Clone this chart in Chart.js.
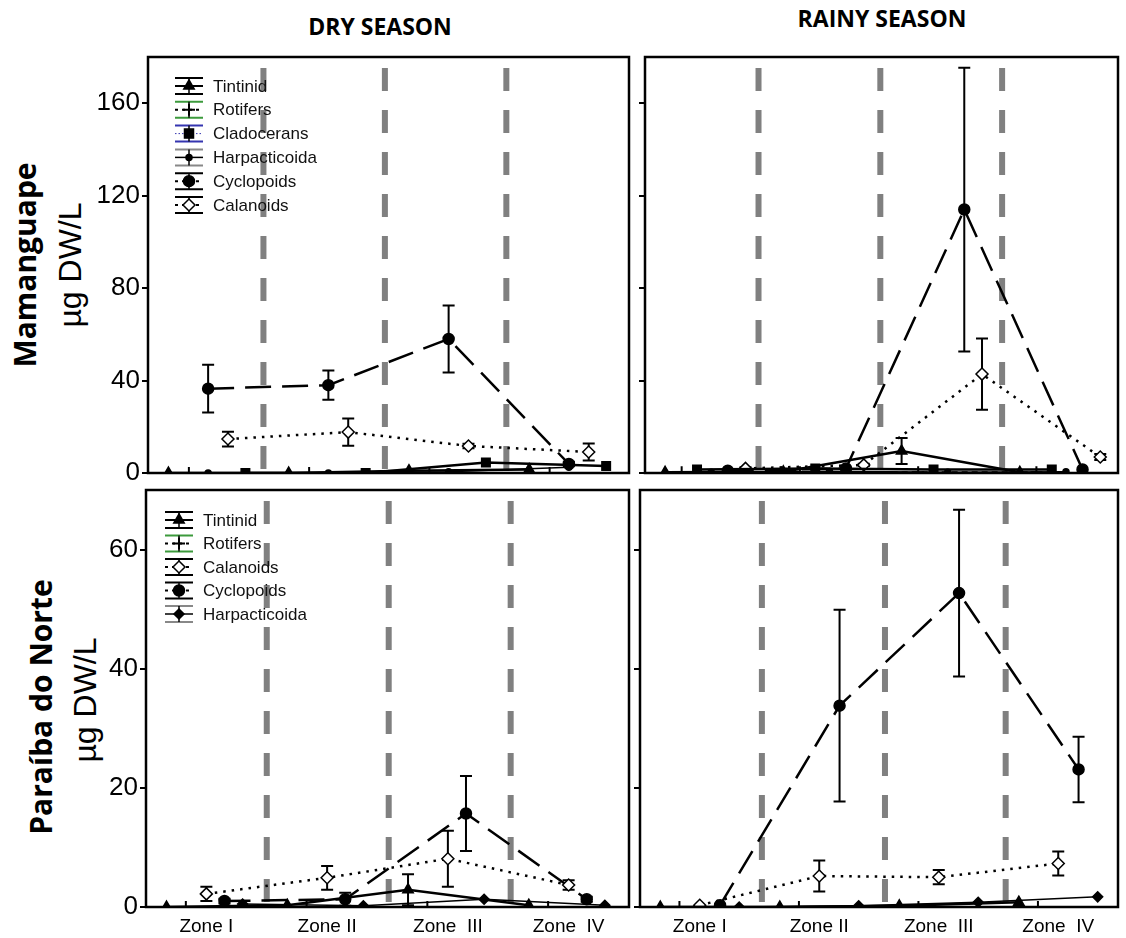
<!DOCTYPE html>
<html>
<head>
<meta charset="utf-8">
<script src="https://cdn.jsdelivr.net/npm/chart.js@4.4.1/dist/chart.umd.min.js"></script>
<style>
  body { margin: 0; background: #fff; width: 1126px; height: 938px; position: relative; overflow: hidden; }
  .lbl { position: absolute; white-space: nowrap; color: #000; transform: translate(-50%, -50%); }
  .season { font-family: "Open Sans", sans-serif; font-weight: 700; font-size: 23px; }
  .site { font-family: "Open Sans", sans-serif; font-weight: 700; font-size: 30px; transform: translate(-50%, -50%) rotate(-90deg); }
  .unit { font-family: "Liberation Sans", Arial, sans-serif; font-size: 32px; transform: translate(-50%, -50%) rotate(-90deg); }
</style>
</head>
<body>
<div class="lbl season" style="left:380px;top:26px">DRY SEASON</div>
<div class="lbl season" style="left:882px;top:18px">RAINY SEASON</div>
<div class="lbl site" style="left:24px;top:265px">Mamanguape</div>
<div class="lbl unit" style="left:70px;top:265px">µg DW/L</div>
<div class="lbl site" style="left:40px;top:707px">Paraíba do Norte</div>
<div class="lbl unit" style="left:85px;top:700px">µg DW/L</div>

<script>
// zooplankton biomass, µg DW/L, mean per zone and error (sd)
const zones = ['Zone I', 'Zone II', 'Zone  III', 'Zone  IV'];
const mamTicks = [0, 40, 80, 120, 160];
const parTicks = [0, 20, 40, 60];

// Mamanguape - dry season
const mamDryTintinid = [0, 0, 1.0, 1.5];
const mamDryRotifers = [0, 0, 0, 0];
const mamDryCladocerans = [0, 0, 4.5, 3.0];
const mamDryHarpacticoida = [0, 0, 0.5, 2.5];
const mamDryCyclopoids = [36.5, 38, 58, 3.9];
const mamDryCyclopoidsSd = [10.3, 6.3, 14.5, 1];
const mamDryCalanoids = [14.7, 17.7, 11.7, 9.1];
const mamDryCalanoidsSd = [3.2, 5.9, 1, 3.7];

// Mamanguape - rainy season
const mamRainTintinid = [0.3, 0.5, 9.5, 0.3];
const mamRainTintinidSd = [0, 0, 5.6, 0];
const mamRainRotifers = [0.3, 0.3, 0.3, 0.3];
const mamRainCladocerans = [1.5, 2, 1.5, 1.5];
const mamRainHarpacticoida = [0.3, 0.8, 0.3, 0.5];
const mamRainCyclopoids = [1, 2, 114, 1.5];
const mamRainCyclopoidsSd = [0, 0, 61.4, 0];
const mamRainCalanoids = [2, 3.5, 42.8, 6.9];
const mamRainCalanoidsSd = [0.5, 0.5, 15.4, 1.3];

// Paraíba do Norte - dry season
const parDryTintinid = [0, 0.3, 2.9, 0.3];
const parDryTintinidSd = [0, 0, 2.6, 0];
const parDryRotifers = [0, 0, 0, 0];
const parDryCalanoids = [2.2, 4.9, 8.1, 3.7];
const parDryCalanoidsSd = [1.2, 2.0, 4.7, 0.8];
const parDryCyclopoids = [1.0, 1.3, 15.7, 1.3];
const parDryCyclopoidsSd = [0.4, 1.1, 6.3, 0.4];
const parDryHarpacticoida = [0.5, 0.2, 1.3, 0.3];

// Paraíba do Norte - rainy season
const parRainTintinid = [0, 0, 0.2, 0.8];
const parRainRotifers = [0, 0, 0, 0];
const parRainCalanoids = [0.3, 5.2, 5.0, 7.3];
const parRainCalanoidsSd = [0, 2.6, 1.2, 2.0];
const parRainCyclopoids = [0.3, 33.8, 52.7, 23.1];
const parRainCyclopoidsSd = [0, 16.1, 14, 5.5];
const parRainHarpacticoida = [0, 0.2, 0.8, 1.7];

// look of every group (markers, line dashes, legend colours)
const look = {
  Tintinid: { style: 'triangle', r: 6, fill: '#000', width: 2.5, dash: [] },
  Rotifers: { style: 'cross', r: 6, fill: '#000', width: 2, dash: [6, 4], bar: '#3c9a3c' },
  Cladocerans: { style: 'rect', r: 6, fill: '#000', width: 2.5, dash: [], legendDash: [1.5, 2], legendColor: '#3535b0', bar: '#3535b0' },
  Harpacticoida: { style: 'circle', r: 3, fill: '#000', width: 1.5, dash: [], bar: '#888' },
  Cyclopoids: { style: 'circle', r: 5.5, fill: '#000', width: 2.5, dash: [26, 11] },
  Calanoids: { style: 'rectRot', r: 6, fill: '#fff', width: 2.5, dash: [2.5, 6] }
};

const PAD_T = 20, PAD_R = 3;

const panels = [
  {
    area: [148, 57, 634, 473], yW: 78, xH: 20, yMax: 180, ticks: mamTicks, yLabels: true, xLabels: false,
    dividers: [0.96, 1.97, 2.98], legend: { dx: 27, dy: 29, gap: 23.8 },
    series: [
      ['Tintinid', mamDryTintinid, null, -0.33],
      ['Rotifers', mamDryRotifers, null, -0.16],
      ['Cladocerans', mamDryCladocerans, null, 0.31],
      ['Harpacticoida', mamDryHarpacticoida, null, 0.0],
      ['Cyclopoids', mamDryCyclopoids, mamDryCyclopoidsSd, 0.0],
      ['Calanoids', mamDryCalanoids, mamDryCalanoidsSd, 0.165]
    ]
  },
  {
    area: [645, 57, 1123, 473], yW: 8, xH: 20, yMax: 180, ticks: mamTicks, yLabels: false, xLabels: false,
    dividers: [0.96, 1.99, 3.02], legend: null,
    series: [
      ['Tintinid', mamRainTintinid, mamRainTintinidSd, -0.33],
      ['Rotifers', mamRainRotifers, null, -0.19],
      ['Cladocerans', mamRainCladocerans, null, -0.06],
      ['Harpacticoida', mamRainHarpacticoida, null, 0.06],
      ['Cyclopoids', mamRainCyclopoids, mamRainCyclopoidsSd, 0.2],
      ['Calanoids', mamRainCalanoids, mamRainCalanoidsSd, 0.35]
    ]
  },
  {
    area: [146, 490, 634, 907], yW: 76, xH: 31, yMax: 70, ticks: parTicks, yLabels: true, xLabels: true,
    dividers: [1.0, 2.01, 3.02], legend: { dx: 19, dy: 30, gap: 23.5 },
    series: [
      ['Tintinid', parDryTintinid, parDryTintinidSd, -0.33],
      ['Rotifers', parDryRotifers, null, -0.17],
      ['Calanoids', parDryCalanoids, parDryCalanoidsSd, 0.0],
      ['Cyclopoids', parDryCyclopoids, parDryCyclopoidsSd, 0.15],
      ['Harpacticoida', parDryHarpacticoida, null, 0.3]
    ]
  },
  {
    area: [640, 490, 1123, 907], yW: 8, xH: 31, yMax: 70, ticks: parTicks, yLabels: false, xLabels: true,
    dividers: [1.02, 2.05, 3.06], legend: null,
    series: [
      ['Tintinid', parRainTintinid, null, -0.33],
      ['Rotifers', parRainRotifers, null, -0.17],
      ['Calanoids', parRainCalanoids, parRainCalanoidsSd, 0.0],
      ['Cyclopoids', parRainCyclopoids, parRainCyclopoidsSd, 0.17],
      ['Harpacticoida', parRainHarpacticoida, null, 0.33]
    ]
  }
];

function marker(ctx, style, r, x, y) {
  ctx.beginPath();
  if (style === 'circle') {
    ctx.arc(x, y, r, 0, Math.PI * 2);
  } else if (style === 'triangle') {
    ctx.moveTo(x, y - r); ctx.lineTo(x + r * 0.87, y + r * 0.5); ctx.lineTo(x - r * 0.87, y + r * 0.5); ctx.closePath();
  } else if (style === 'rect') {
    ctx.rect(x - r * 0.75, y - r * 0.75, r * 1.5, r * 1.5);
  } else if (style === 'rectRot') {
    ctx.moveTo(x, y - r); ctx.lineTo(x + r, y); ctx.lineTo(x, y + r); ctx.lineTo(x - r, y); ctx.closePath();
  } else if (style === 'cross') {
    ctx.moveTo(x - r, y); ctx.lineTo(x + r, y); ctx.moveTo(x, y - r); ctx.lineTo(x, y + r);
    ctx.stroke();
    return;
  }
  ctx.fill();
  ctx.stroke();
}

const dividerLines = {
  id: 'dividerLines',
  beforeDatasetsDraw(chart, args, opts) {
    const { ctx, chartArea: a, scales: { x } } = chart;
    ctx.save();
    ctx.strokeStyle = '#808080';
    ctx.lineWidth = 6;
    ctx.setLineDash([23, 19]);
    opts.at.forEach(v => {
      const px = x.getPixelForValue(v);
      ctx.beginPath();
      ctx.moveTo(px, a.top + 11);
      ctx.lineTo(px, a.bottom);
      ctx.stroke();
    });
    ctx.restore();
  }
};

const errorBars = {
  id: 'errorBars',
  beforeDatasetsDraw(chart) {
    const { ctx, scales: { x, y } } = chart;
    ctx.save();
    ctx.strokeStyle = '#000';
    ctx.lineWidth = 2;
    chart.data.datasets.forEach(ds => {
      if (!ds.sd) return;
      ds.data.forEach((pt, i) => {
        const e = ds.sd[i];
        if (!e) return;
        const px = x.getPixelForValue(pt.x);
        const y1 = y.getPixelForValue(pt.y + e);
        const y2 = y.getPixelForValue(Math.max(pt.y - e, 0));
        ctx.beginPath();
        ctx.moveTo(px, y1); ctx.lineTo(px, y2);
        ctx.moveTo(px - 6, y1); ctx.lineTo(px + 6, y1);
        ctx.moveTo(px - 6, y2); ctx.lineTo(px + 6, y2);
        ctx.stroke();
      });
    });
    ctx.restore();
  }
};

const frameBox = {
  id: 'frameBox',
  afterDraw(chart) {
    const { ctx, chartArea: a } = chart;
    ctx.save();
    ctx.strokeStyle = '#000';
    ctx.lineWidth = 2.5;
    ctx.strokeRect(a.left, a.top, a.right - a.left, a.bottom - a.top);
    ctx.restore();
  }
};

const boxLegend = {
  id: 'boxLegend',
  afterDraw(chart, args, opts) {
    if (!opts.show) return;
    const { ctx, chartArea: a } = chart;
    const w = 28;
    ctx.save();
    chart.data.datasets.forEach((ds, i) => {
      const lk = ds.look;
      const x0 = a.left + opts.dx, cx = x0 + w / 2;
      const y = a.top + opts.dy + i * opts.gap;
      ctx.setLineDash([]);
      ctx.strokeStyle = lk.bar || '#000';
      ctx.lineWidth = 2;
      ctx.beginPath();
      ctx.moveTo(x0, y - 8); ctx.lineTo(x0 + w, y - 8);
      ctx.moveTo(x0, y + 8); ctx.lineTo(x0 + w, y + 8);
      ctx.stroke();
      ctx.strokeStyle = '#000';
      ctx.lineWidth = 1.5;
      ctx.beginPath();
      ctx.moveTo(cx, y - 8); ctx.lineTo(cx, y + 8);
      ctx.stroke();
      ctx.strokeStyle = lk.legendColor || '#000';
      ctx.lineWidth = lk.legendDash ? 1 : Math.min(lk.width, 2);
      ctx.setLineDash(lk.legendDash || (lk.dash.length ? [3, 4] : []));
      ctx.beginPath();
      ctx.moveTo(x0, y); ctx.lineTo(x0 + w, y);
      ctx.stroke();
      ctx.setLineDash([]);
      ctx.strokeStyle = '#000';
      ctx.fillStyle = lk.fill;
      ctx.lineWidth = lk.style === 'cross' ? 2 : 1.5;
      marker(ctx, lk.style, lk.r, cx, y);
      ctx.fillStyle = '#111';
      ctx.font = '17px "Liberation Sans", Arial, sans-serif';
      ctx.textBaseline = 'middle';
      ctx.fillText(ds.label, x0 + w + 10, y + 1);
    });
    ctx.restore();
  }
};

function makeSeries([name, values, sd, dodge], panelIndex) {
  let lk = look[name];
  // the Paraíba panels mark Harpacticoida with a filled diamond
  if (name === 'Harpacticoida' && panelIndex >= 2) lk = Object.assign({}, lk, { style: 'rectRot', r: 5 });
  return {
    label: name,
    look: lk,
    sd: sd,
    data: values.map((v, i) => ({ x: i + 0.5 + dodge, y: v })),
    borderColor: '#000',
    borderWidth: lk.width,
    borderDash: lk.dash,
    borderCapStyle: 'butt',
    pointStyle: lk.style,
    pointRadius: lk.r,
    pointBackgroundColor: lk.fill,
    pointBorderColor: '#000',
    pointBorderWidth: lk.style === 'cross' ? 2 : 1.5,
    fill: false,
    tension: 0
  };
}

Chart.defaults.font.family = '"Liberation Sans", Arial, sans-serif';
Chart.defaults.color = '#000';

panels.forEach((p, pi) => {
  const [l, t, r, b] = p.area;
  const left = l - p.yW, top = t - PAD_T;
  const w = r + PAD_R - left, h = b + p.xH - top;
  const cv = document.createElement('canvas');
  cv.width = w; cv.height = h;
  cv.style.cssText = `position:absolute;left:${left}px;top:${top}px;width:${w}px;height:${h}px`;
  document.body.appendChild(cv);

  new Chart(cv, {
    type: 'line',
    data: { datasets: p.series.map(s => makeSeries(s, pi)) },
    plugins: [dividerLines, errorBars, frameBox, boxLegend],
    options: {
      responsive: false,
      animation: false,
      devicePixelRatio: 1,
      layout: { padding: { top: PAD_T, right: PAD_R, left: 0, bottom: 0 } },
      plugins: {
        legend: { display: false },
        tooltip: { enabled: false },
        dividerLines: { at: p.dividers },
        boxLegend: p.legend ? Object.assign({ show: true }, p.legend) : { show: false }
      },
      scales: {
        x: {
          type: 'linear', min: 0, max: 4,
          afterBuildTicks: s => { s.ticks = zones.map((z, i) => ({ value: i + 0.5 })); },
          afterFit: s => { s.height = p.xH; },
          ticks: { display: p.xLabels, autoSkip: false, maxRotation: 0, font: { size: 19 }, padding: 8, callback: (v, i) => zones[i] },
          grid: { display: false, drawTicks: false },
          border: { display: false }
        },
        y: {
          min: 0, max: p.yMax,
          afterBuildTicks: s => { s.ticks = p.ticks.map(v => ({ value: v })); },
          afterFit: s => { s.width = p.yW; },
          ticks: { display: p.yLabels, font: { size: 26 }, padding: 2 },
          grid: { drawOnChartArea: false, drawTicks: true, tickLength: 6, color: '#000', lineWidth: 2 },
          border: { display: false }
        }
      }
    }
  });
});
</script>
</body>
</html>
